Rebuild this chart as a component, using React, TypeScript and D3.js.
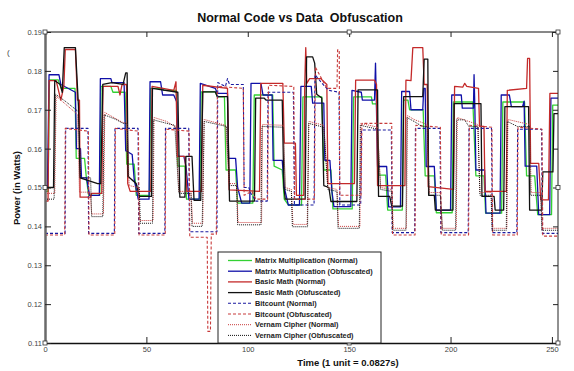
import { useRef, useEffect } from 'react'
import * as d3 from 'd3'

type Pt = [number, number]

// Time (units) vs power (W), vertex by vertex
const matrixNormal: Pt[] = [
  [0, 0.149], [1.5, 0.149], [2.2, 0.1777], [6.5, 0.1777], [8, 0.1755], [14.8, 0.1755], [15.4, 0.1575], [19.5, 0.1575], [20.5, 0.152], [21.5, 0.148], [27, 0.148],
  [27.6, 0.176], [32.5, 0.176], [33.5, 0.1745], [39.5, 0.1745], [40.3, 0.156], [44, 0.156], [45, 0.148], [51.5, 0.148],
  [52.1, 0.1755], [58, 0.1755], [58.5, 0.175], [64.8, 0.175], [65.5, 0.1555], [69, 0.1555], [69.8, 0.147], [76.3, 0.147],
  [77, 0.1746], [84, 0.1746], [85, 0.1733], [88.5, 0.1733], [89.3, 0.1545], [94, 0.1545], [95, 0.146], [102.5, 0.146],
  [103.2, 0.1738], [112.3, 0.1738], [113, 0.1555], [117, 0.1545], [118, 0.147], [120, 0.1455], [126.5, 0.1455],
  [127.2, 0.1733], [136.5, 0.1733], [137.5, 0.1545], [141, 0.1545], [142, 0.1445], [151.5, 0.1445],
  [152.2, 0.1733], [161, 0.1733], [161.5, 0.1715], [163.5, 0.1715], [164.5, 0.1532], [168, 0.1532], [169, 0.1442], [176.2, 0.1442],
  [176.8, 0.1725], [179, 0.1725], [179.8, 0.17], [186.5, 0.17], [187.5, 0.153], [192, 0.153], [193, 0.1435], [200.8, 0.1435],
  [201.4, 0.172], [211, 0.172], [212.5, 0.153], [216.5, 0.153], [217.3, 0.1434], [225.2, 0.1434],
  [225.8, 0.172], [236.5, 0.172], [237.5, 0.153], [241.5, 0.153], [243, 0.143], [249.8, 0.143],
  [250.4, 0.1712], [253, 0.1712],
]

const matrixObf: Pt[] = [
  [0, 0.15], [1.2, 0.15], [2, 0.179], [6.9, 0.179], [7.8, 0.1765], [15, 0.1745], [15.5, 0.16], [17.5, 0.16], [18, 0.1525], [20.5, 0.1525], [22, 0.148], [26.8, 0.148],
  [27.3, 0.178], [32.5, 0.178], [33, 0.177], [39, 0.177], [39.8, 0.1595], [43, 0.1585], [44, 0.152], [46, 0.147], [51.3, 0.147],
  [51.8, 0.1772], [57, 0.1772], [58, 0.1738], [63.5, 0.1738], [65, 0.172], [65.5, 0.158], [68.5, 0.158], [69.5, 0.1555], [71, 0.147], [76, 0.147],
  [76.6, 0.1768], [84, 0.1755], [85, 0.1742], [90, 0.1742], [90.5, 0.1575], [94, 0.1575], [95, 0.15], [97, 0.146], [101, 0.146],
  [101.6, 0.1768], [106.5, 0.1768], [107.5, 0.1738], [112, 0.1738], [112.5, 0.157], [117, 0.157], [118, 0.15], [120, 0.1455], [125.5, 0.1455],
  [126.2, 0.176], [131.3, 0.176], [132, 0.1717], [137.5, 0.1717], [138, 0.157], [140.5, 0.157], [141.5, 0.149], [142.5, 0.1451], [150.8, 0.1451],
  [151.4, 0.175], [156, 0.1745], [156.5, 0.1725], [162.5, 0.1725], [163, 0.182], [163.4, 0.1725], [164, 0.1554], [168.5, 0.1554], [169.5, 0.145], [175.3, 0.145],
  [175.9, 0.1747], [179.8, 0.1747], [180.5, 0.17], [186.3, 0.17], [186.8, 0.1755], [187.5, 0.1755], [188, 0.1554], [192, 0.1554], [193, 0.1442], [200, 0.1442],
  [200.6, 0.1738], [205.3, 0.1738], [205.8, 0.1704], [211.3, 0.1704], [211.6, 0.179], [212, 0.1704], [212.5, 0.1545], [216.8, 0.1545], [217.5, 0.1434], [224.4, 0.1434],
  [225, 0.1738], [229, 0.1738], [230, 0.1708], [235.5, 0.1708], [236.3, 0.1722], [236.8, 0.1555], [242.5, 0.1555], [243.5, 0.143], [248.9, 0.143],
  [249.5, 0.173], [253, 0.173],
]

const basicNormal: Pt[] = [
  [0, 0.1465], [1.5, 0.1465], [2, 0.1775], [5.5, 0.1775], [7.8, 0.1725], [9.3, 0.176], [10, 0.1855], [15, 0.1855], [16, 0.1725], [17, 0.1725], [17.3, 0.1475], [22.5, 0.1475], [23, 0.1485], [28, 0.1485],
  [28.6, 0.176], [36, 0.176], [37, 0.1738], [38, 0.1765], [40.2, 0.1765], [40.8, 0.151], [42, 0.149], [52.2, 0.149],
  [52.8, 0.176], [63.5, 0.175], [64.6, 0.1772], [65.3, 0.158], [69, 0.158], [70, 0.149], [77.2, 0.149],
  [77.8, 0.1763], [90, 0.1755], [90.8, 0.1494], [105.8, 0.149],
  [106.4, 0.1768], [117.3, 0.1768], [118, 0.1614], [123.5, 0.1614], [124, 0.148], [127.6, 0.148],
  [128.1, 0.1765], [128.6, 0.186], [129.1, 0.1768], [130.5, 0.178], [136, 0.178], [139, 0.1765], [139.5, 0.151], [152.6, 0.151],
  [153.2, 0.1776], [162.5, 0.1776], [163.5, 0.1765], [164, 0.1505], [177.5, 0.1505],
  [178, 0.1776], [180.5, 0.1775], [181.4, 0.186], [186.3, 0.186], [187, 0.1765], [188.5, 0.1765], [189, 0.1502], [201.5, 0.1495],
  [202, 0.176], [206, 0.1758], [207, 0.1768], [208, 0.176], [213.8, 0.1755], [214.3, 0.1657], [216.5, 0.1657], [217, 0.149], [227.5, 0.149],
  [228, 0.175], [237.5, 0.1755], [238, 0.1832], [239, 0.1832], [239.5, 0.1562], [243.5, 0.1562], [244.5, 0.1468], [248.3, 0.1468], [249, 0.1742], [253, 0.1742],
]

const basicObf: Pt[] = [
  [0, 0.15], [4.2, 0.15], [4.8, 0.1775], [7.5, 0.1765], [8.5, 0.1745], [9.5, 0.186], [15, 0.186], [16.5, 0.171], [17.3, 0.1525], [26, 0.151], [27.5, 0.151], [28.5, 0.1765],
  [33, 0.177], [38.5, 0.1765], [39.8, 0.1795], [40.5, 0.1795], [41, 0.1528], [45, 0.151], [46.5, 0.1477], [52.5, 0.1477],
  [53, 0.1755], [65.5, 0.1745], [66.5, 0.1475], [69, 0.1475], [69.5, 0.158], [72.5, 0.158], [73.5, 0.1467], [76.8, 0.1467],
  [77.8, 0.1746], [84, 0.1746], [85, 0.1734], [90, 0.1734], [91, 0.1465], [103.3, 0.1465],
  [103.9, 0.173], [108, 0.173], [109, 0.1725], [117, 0.1725], [117.8, 0.15], [118.5, 0.147], [128.3, 0.147],
  [129, 0.1836], [132, 0.1836], [133, 0.182], [134, 0.174], [136.5, 0.173], [137.5, 0.1505], [140, 0.15], [141, 0.1464], [153.8, 0.1464],
  [154.4, 0.1751], [164, 0.1751], [164.5, 0.1477], [170, 0.1477], [171, 0.1452], [176.3, 0.1452],
  [176.9, 0.1734], [186.3, 0.1734], [187, 0.183], [188.8, 0.183], [189.2, 0.148], [192, 0.148], [192.5, 0.1442], [201.2, 0.1442],
  [201.8, 0.1716], [215, 0.1716], [215.5, 0.1477], [221.5, 0.1477], [222, 0.1442], [226.2, 0.1442],
  [226.8, 0.1708], [238.5, 0.1708], [239, 0.1442], [245, 0.1442], [245.5, 0.154], [250.5, 0.154], [251, 0.169], [253, 0.169],
]

const bitcountNormal: Pt[] = [
  [0, 0.1382], [9.9, 0.1382], [10.2, 0.1652], [21.2, 0.1652], [21.5, 0.1382], [34.2, 0.1382], [34.5, 0.1652], [45.9, 0.1652], [46.2, 0.1382],
  [59.1, 0.1382], [59.4, 0.1652], [70.9, 0.1652], [71.2, 0.1386], [84.8, 0.1386], [85.2, 0.177], [89, 0.176], [90, 0.178], [91, 0.1765], [97.8, 0.1765],
  [98.2, 0.15], [100.5, 0.15], [101.5, 0.1485], [104, 0.1465], [109.6, 0.1465], [110, 0.1745], [122.5, 0.1745], [123, 0.1455], [132.7, 0.1455],
  [133.1, 0.179], [138, 0.176], [140, 0.175], [145, 0.1745], [145.4, 0.1455], [155.7, 0.1455], [156.1, 0.1648], [170.8, 0.1648], [171.2, 0.1384],
  [182.3, 0.1384], [182.7, 0.1652], [194.8, 0.1652], [195.2, 0.1384], [208.7, 0.1384], [209.1, 0.1652], [220.2, 0.1652], [220.6, 0.1384],
  [232.7, 0.1384], [233.1, 0.165], [244.9, 0.165], [245.3, 0.1382], [253, 0.1382],
]

const bitcountObf: Pt[] = [
  [0, 0.1378], [9.7, 0.1378], [10, 0.1652], [21.4, 0.1645], [21.7, 0.1378], [34.4, 0.1378], [34.7, 0.1652], [46.1, 0.1645], [46.4, 0.1378],
  [59.3, 0.1378], [59.6, 0.165], [71.1, 0.1645], [71.4, 0.1372], [80, 0.1372], [80.3, 0.113], [81.6, 0.113], [82, 0.138], [84.5, 0.138],
  [85, 0.176], [97.8, 0.1755], [98.2, 0.148], [102, 0.149], [104, 0.147], [109.8, 0.147], [110.2, 0.1763], [122.7, 0.176], [123.1, 0.147], [132.9, 0.147],
  [133.3, 0.181], [139, 0.1755], [144, 0.1755], [144.3, 0.1854], [145.1, 0.1854], [145.4, 0.148], [155.9, 0.148], [156.3, 0.1665], [171, 0.1665],
  [171.4, 0.1378], [182.5, 0.1378], [182.9, 0.166], [195, 0.1655], [195.4, 0.1378], [208.9, 0.1378], [209.3, 0.166], [220.4, 0.1655], [220.8, 0.1378],
  [232.9, 0.1378], [233.3, 0.1655], [245.1, 0.165], [245.5, 0.1375], [253, 0.1375],
]

const vernamNormal: Pt[] = [
  [0, 0.1485], [4.8, 0.1485], [5.5, 0.1735], [10, 0.1715], [16, 0.1688], [17, 0.1488], [22.3, 0.1488], [23, 0.1432], [28.8, 0.1432],
  [29.5, 0.1693], [38, 0.1668], [40.5, 0.1665], [41.5, 0.1505], [46, 0.15], [46.8, 0.1415], [53.3, 0.1415], [53.8, 0.168], [60, 0.167], [64.5, 0.1655],
  [66, 0.149], [72, 0.149], [72.8, 0.1408], [77.8, 0.1408], [78.5, 0.1675], [89, 0.166], [90.8, 0.151], [94.5, 0.151], [95.2, 0.141], [106.8, 0.141],
  [107.3, 0.1662], [117.5, 0.166], [118.5, 0.15], [121.5, 0.1495], [122.3, 0.1405], [129.3, 0.1405], [130.2, 0.167], [137.5, 0.166], [139.5, 0.15],
  [144, 0.1495], [144.8, 0.14], [155.3, 0.14], [155.8, 0.1665], [164, 0.1655], [165.5, 0.15], [171, 0.1495], [171.8, 0.1395], [178.2, 0.1395],
  [178.8, 0.1685], [182, 0.1675], [188.5, 0.1662], [189.5, 0.1487], [195, 0.1487], [196, 0.1395], [202.8, 0.1395], [203.3, 0.168], [213.5, 0.1662],
  [214.5, 0.1487], [220, 0.1487], [220.8, 0.1395], [227.8, 0.1395], [228.3, 0.1675], [239, 0.1662], [239.8, 0.1487], [244.5, 0.1487], [245.3, 0.1395], [253, 0.1395],
]

const vernamObf: Pt[] = [
  [0, 0.147], [4.5, 0.147], [5.2, 0.174], [10, 0.1722], [16.5, 0.1695], [17.5, 0.1525], [22.5, 0.1525], [23, 0.1425], [28.5, 0.1425],
  [29.2, 0.1687], [35, 0.1675], [38.5, 0.1665], [40.5, 0.1665], [41.2, 0.1528], [46.5, 0.15], [47, 0.1408], [53, 0.1408], [53.5, 0.1674], [60, 0.1665],
  [64, 0.166], [66, 0.1485], [72, 0.1485], [72.5, 0.14], [77.5, 0.14], [78.5, 0.167], [89.5, 0.1657], [91, 0.1505], [94.5, 0.1505], [95, 0.1404], [106.5, 0.1404],
  [107, 0.1657], [117.5, 0.1655], [118.5, 0.1495], [121.5, 0.149], [122, 0.1399], [129.5, 0.1399], [130, 0.1665], [137.5, 0.1655], [139.5, 0.1495],
  [144, 0.149], [144.5, 0.1395], [155, 0.1395], [155.5, 0.166], [164, 0.165], [165.5, 0.1495], [171, 0.149], [171.5, 0.139], [178, 0.139],
  [178.5, 0.168], [182, 0.167], [186, 0.1657], [188.5, 0.1657], [189.5, 0.148], [195, 0.148], [196, 0.139], [202.5, 0.139], [203, 0.1674], [207, 0.1674],
  [209, 0.1657], [213.5, 0.1657], [214.5, 0.148], [220, 0.148], [220.5, 0.139], [227.5, 0.139], [228, 0.167], [233, 0.1657], [239, 0.1657],
  [239.5, 0.148], [244.5, 0.148], [245, 0.139], [253, 0.139],
]

const seriesLabels = [
  'Matrix Multiplication (Normal)',
  'Matrix Multiplication (Obfuscated)',
  'Basic Math (Normal)',
  'Basic Math (Obfuscated)',
  'Bitcount (Normal)',
  'Bitcount (Obfuscated)',
  'Vernam Cipher (Normal)',
  'Vernam Cipher (Obfuscated)',
]
const seriesData = [matrixNormal, matrixObf, basicNormal, basicObf, bitcountNormal, bitcountObf, vernamNormal, vernamObf]
const xTicks = [0, 50, 100, 150, 200, 250]
const yTicks = [0.11, 0.12, 0.13, 0.14, 0.15, 0.16, 0.17, 0.18, 0.19]

const styles = [
  { color: '#33d133', dash: null, w: 1.3 },
  { color: '#1010a8', dash: null, w: 1.3 },
  { color: '#c42a2a', dash: null, w: 1.3 },
  { color: '#111111', dash: null, w: 1.3 },
  { color: '#1a1aa0', dash: '3,2', w: 1.1 },
  { color: '#c83a3a', dash: '3,2', w: 1.1 },
  { color: '#c83a3a', dash: '1,1', w: 1 },
  { color: '#111111', dash: '1,1', w: 1 },
]

const FONT = '"Liberation Sans", Arial, sans-serif'

export default function App() {
  const svgRef = useRef<SVGSVGElement | null>(null)

  useEffect(() => {
    if (!svgRef.current) return
    const svg = d3.select(svgRef.current)
    svg.selectAll('*').remove()

    const left = 45, right = 558, top = 32, bottom = 343
    const x = d3.scaleLinear().domain([0, 253]).range([left, right])
    const y = d3.scaleLinear().domain([0.11, 0.19]).range([bottom, top])

    svg.append('rect').attr('width', 574).attr('height', 371).attr('fill', '#fff')

    // title
    svg.append('text').attr('x', 300).attr('y', 22).attr('text-anchor', 'middle')
      .attr('font-family', FONT).attr('font-weight', 'bold').attr('font-size', '12.5px')
      .attr('fill', '#111').attr('xml:space', 'preserve').text('Normal Code vs Data  Obfuscation')
    svg.append('text').attr('x', 7).attr('y', 55).attr('font-family', FONT)
      .attr('font-size', '8px').attr('fill', '#444').text('(')

    // series
    const line = d3.line<Pt>().x(d => x(d[0])).y(d => y(d[1]))
    seriesData.forEach((data, i) => {
      const s = styles[i]
      const p = svg.append('path').datum(data).attr('d', line).attr('fill', 'none')
        .attr('stroke', s.color).attr('stroke-width', s.w).attr('stroke-linejoin', 'round')
      if (s.dash) p.attr('stroke-dasharray', s.dash)
    })

    // frame
    svg.append('line').attr('x1', left).attr('x2', right).attr('y1', top).attr('y2', top)
      .attr('stroke', '#111').attr('stroke-width', 1)
    svg.append('line').attr('x1', right).attr('x2', right).attr('y1', top).attr('y2', bottom)
      .attr('stroke', '#222').attr('stroke-width', 1)

    // axes
    const gx = svg.append('g').attr('transform', `translate(0,${bottom})`)
      .call(d3.axisBottom(x).tickValues(xTicks).tickSizeInner(-6).tickSizeOuter(0).tickPadding(4).tickFormat(d3.format('d')))
    gx.select('.domain').attr('stroke', '#111').attr('stroke-width', 1.6)
    gx.selectAll('line').attr('stroke', '#222')
    gx.selectAll('text').attr('font-family', FONT).attr('font-size', '7.5px').attr('fill', '#444')

    const gxTop = svg.append('g').attr('transform', `translate(0,${top})`)
      .call(d3.axisTop(x).tickValues(xTicks).tickSizeInner(-5).tickSizeOuter(0).tickFormat(() => ''))
    gxTop.select('.domain').remove()
    gxTop.selectAll('line').attr('stroke', '#222')

    const gy = svg.append('g').attr('transform', `translate(${left},0)`)
      .call(d3.axisLeft(y).tickValues(yTicks).tickSizeInner(-6).tickSizeOuter(0).tickPadding(3).tickFormat(d3.format('.2f')))
    gy.select('.domain').attr('stroke', '#6a6a6a').attr('stroke-width', 2.5)
    gy.selectAll('line').attr('stroke', '#222')
    gy.selectAll('text').attr('font-family', FONT).attr('font-size', '7.5px').attr('fill', '#444')

    const gyRight = svg.append('g').attr('transform', `translate(${right},0)`)
      .call(d3.axisRight(y).tickValues(yTicks).tickSizeInner(-5).tickSizeOuter(0).tickFormat(() => ''))
    gyRight.select('.domain').remove()
    gyRight.selectAll('line').attr('stroke', '#222')

    // selection handles
    const handles: Pt[] = [[x(0), y(0.19)], [x(150), y(0.19)], [right, y(0.19)], [right, y(0.15)], [right, bottom], [x(150), bottom], [x(0), bottom], [x(0), y(0.15)]]
    handles.forEach(([hx, hy]) => {
      svg.append('rect').attr('x', hx - 2).attr('y', hy - 2).attr('width', 4).attr('height', 4)
        .attr('fill', '#fff').attr('stroke', '#333').attr('stroke-width', 0.8)
    })

    // axis labels
    svg.append('text').attr('x', 348).attr('y', 366).attr('text-anchor', 'middle')
      .attr('font-family', FONT).attr('font-weight', 'bold').attr('font-size', '9.5px').attr('fill', '#111')
      .text('Time (1 unit = 0.0827s)')
    svg.append('text').attr('transform', 'translate(20,188) rotate(-90)').attr('text-anchor', 'middle')
      .attr('font-family', FONT).attr('font-weight', 'bold').attr('font-size', '9.5px').attr('fill', '#111')
      .text('Power (in Watts)')

    // legend
    const lx = 218, ly = 252, lw = 163, lh = 91
    svg.append('clipPath').attr('id', 'legclip').append('rect')
      .attr('x', lx).attr('y', ly).attr('width', lw - 1).attr('height', lh)
    svg.append('rect').attr('x', lx).attr('y', ly).attr('width', lw).attr('height', lh)
      .attr('fill', '#fff').attr('stroke', '#222').attr('stroke-width', 1)
    const leg = svg.append('g').attr('clip-path', 'url(#legclip)')
    seriesLabels.forEach((label, i) => {
      const s = styles[i]
      const ry = ly + 8.5 + i * 10.7
      const l = leg.append('line').attr('x1', lx + 10).attr('x2', lx + 34).attr('y1', ry).attr('y2', ry)
        .attr('stroke', s.color).attr('stroke-width', s.w)
      if (s.dash) l.attr('stroke-dasharray', s.dash)
      leg.append('text').attr('x', lx + 37).attr('y', ry + 2.5).attr('font-family', FONT)
        .attr('font-weight', 'bold').attr('font-size', '7.3px').attr('fill', '#222').text(label)
    })
  }, [])

  return (
    <svg ref={svgRef} width={574} height={371} viewBox="0 0 574 371"
      style={{ position: 'absolute', left: 0, top: 0 }} />
  )
}
